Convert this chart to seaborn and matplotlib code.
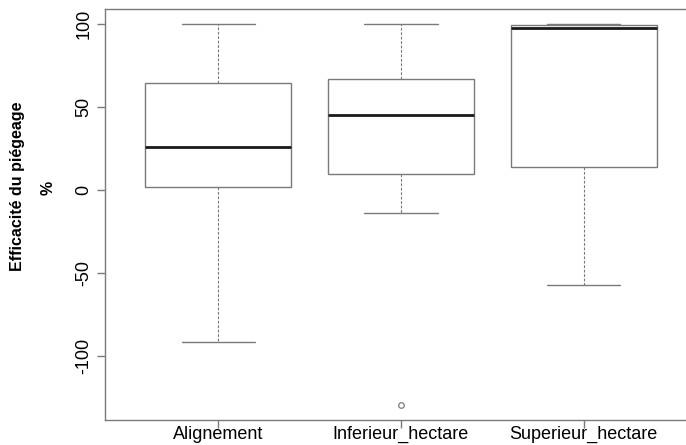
import pandas as pd
import matplotlib
matplotlib.use("Agg")
import matplotlib.pyplot as plt
import seaborn as sns

# valeurs (efficacité du piégeage, %)
alignement = [-91.5, 2, 26, 64.5, 100]
inferieur_hectare = [-129.5, -14, 9.6, 30, 45, 55, 66.7, 85, 100]
superieur_hectare = [-57, 13.7, 97.6, 99.6, 100]
groupes = ["Alignement", "Inferieur_hectare", "Superieur_hectare"]
yticks = [-100, -50, 0, 50, 100]

df = pd.DataFrame({
    "groupe": [groupes[0]] * len(alignement)
              + [groupes[1]] * len(inferieur_hectare)
              + [groupes[2]] * len(superieur_hectare),
    "eff": alignement + inferieur_hectare + superieur_hectare,
})

sns.set_style("white")
plt.rcParams["font.family"] = ["Liberation Sans", "DejaVu Sans"]
plt.rcParams["text.color"] = "black"
plt.rcParams["xtick.labelcolor"] = "black"
plt.rcParams["ytick.labelcolor"] = "black"

gris = "#7a7a7a"
fig = plt.figure(figsize=(6.86, 4.45), dpi=100)
ax = fig.add_axes([105 / 686, 25 / 445, 592 / 686, 411 / 445])

sns.boxplot(data=df, x="groupe", y="eff", order=groupes, ax=ax,
            width=0.8, color="white", linecolor=gris, linewidth=1,
            whis=1.5, fliersize=4,
            whiskerprops=dict(linestyle=(0, (2.5, 1.5)), linewidth=0.8),
            medianprops=dict(color="#1a1a1a", linewidth=2),
            flierprops=dict(marker="o", markerfacecolor="none",
                            markeredgecolor=gris, markeredgewidth=0.9))

ax.set_xlim(-0.62, 2.62)
ax.set_ylim(-138.7, 109.2)
ax.set_yticks(yticks)
ax.set_yticklabels([str(v) for v in yticks], fontsize=13, rotation=90, va="center")
ax.set_xticks(range(len(groupes)))
ax.set_xticklabels(groupes, fontsize=13)
ax.set_xlabel("")
ax.set_ylabel("")
ax.tick_params(axis="both", direction="out", length=6, width=1, color=gris,
               labelcolor="black", bottom=True, left=True)
ax.tick_params(axis="x", pad=-2)
ax.tick_params(axis="y", pad=3)
for s in ax.spines.values():
    s.set_color(gris)
    s.set_linewidth(1)

fig.text(18 / 686, 1 - 186 / 445, "Efficacité du piégeage", rotation=90,
         fontsize=11.5, fontweight="bold", ha="center", va="center", color="black")
fig.text(48 / 686, 1 - 188 / 445, "%", rotation=90,
         fontsize=11.5, fontweight="bold", ha="center", va="center", color="black")

fig.savefig("out.png", dpi=100)
